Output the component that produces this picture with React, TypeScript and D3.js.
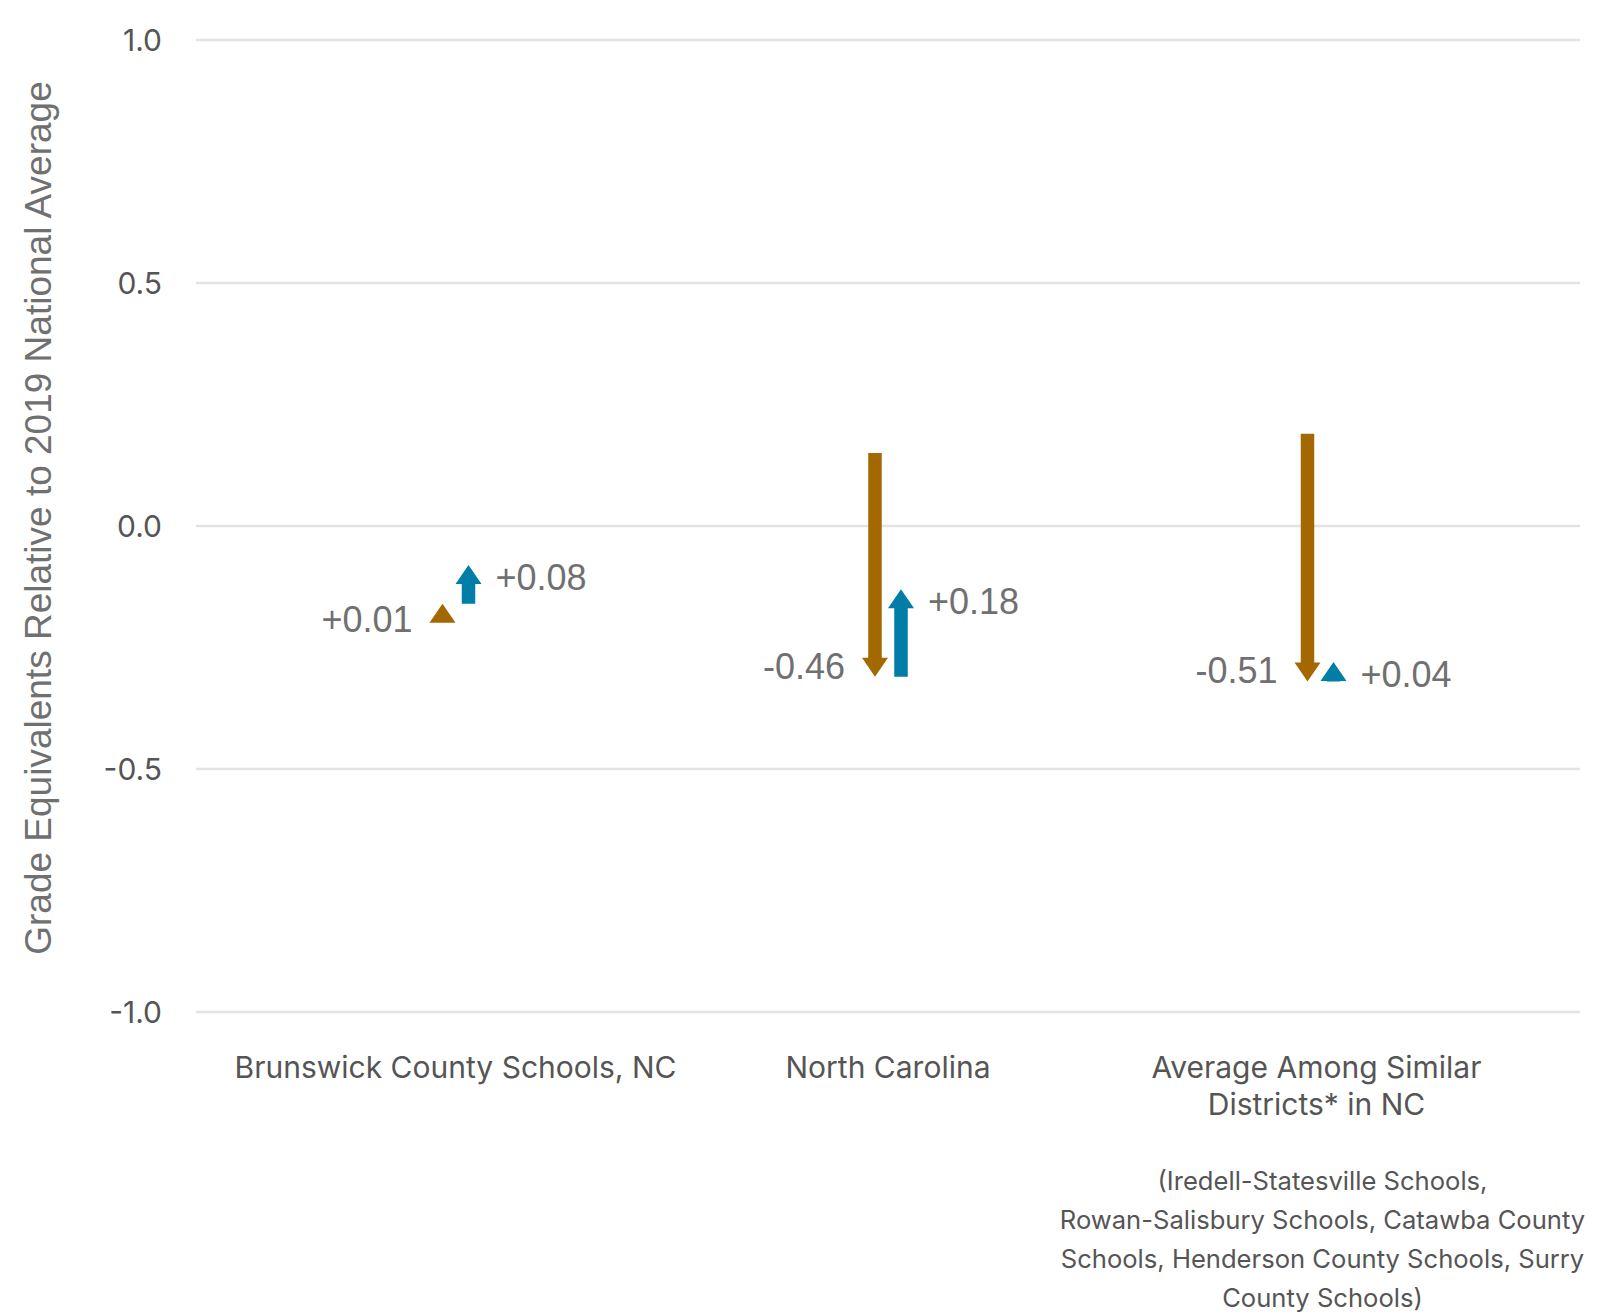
import React from "react";
import * as d3 from "d3";

const categories = ["Brunswick", "NorthCarolina", "Similar"];
const categoryLines = [
  ["Brunswick County Schools, NC"],
  ["North Carolina"],
  ["Average Among Similar", "Districts* in NC"],
];
const noteLines = [
  "(Iredell-Statesville Schools,",
  "Rowan-Salisbury Schools, Catawba County",
  "Schools, Henderson County Schools, Surry",
  "County Schools)",
];
const firstStart = [-0.17, 0.15, 0.19];
const firstEnd = [-0.16, -0.31, -0.32];
const secondEnd = [-0.08, -0.13, -0.28];
const yTicks = [-1, -0.5, 0, 0.5, 1];

const W = 1600;
const H = 1315;
const BROWN = "#A36800";
const BLUE = "#007EA7";
const GRID = "#e3e3e3";
const TEXT = "#555555";
const VALUE = "#707070";

const fixMinus = (s: string) => s.replace(/\u2212/g, "-");
const fmtDelta = d3.format("+.2f");
const fmtTick = d3.format(".1f");

function arrowPath(x: number, y0: number, y1: number) {
  const headLen = 19;
  const headW = 26;
  const shaftW = 13.5;
  const dir = y1 >= y0 ? 1 : -1;
  const base = y1 - dir * headLen;
  const p = d3.path();
  if ((base - y0) * dir > 0) {
    p.rect(x - shaftW / 2, Math.min(y0, base), shaftW, Math.abs(base - y0));
  }
  p.moveTo(x - headW / 2, base);
  p.lineTo(x + headW / 2, base);
  p.lineTo(x, y1);
  p.closePath();
  return p.toString();
}

export default function App() {
  const x = d3.scalePoint<string>().domain(categories).range([196, 1580]).padding(0.6);
  const y = d3.scaleLinear().domain([-1, 1]).range([1012, 40]);
  const off = 13;

  return (
    <svg
      width={W}
      height={H}
      style={{ position: "absolute", left: 0, top: 0, background: "#fff" }}
    >
      {yTicks.map((t) => (
        <g key={t}>
          <line x1={196} x2={1580} y1={y(t)} y2={y(t)} stroke={GRID} strokeWidth={2.5} />
          <text
            x={162}
            y={y(t)}
            dy="0.36em"
            textAnchor="end"
            fontFamily="Inter, sans-serif"
            fontSize={30}
            fill={TEXT}
          >
            {fixMinus(fmtTick(t))}
          </text>
        </g>
      ))}

      <text
        transform={`translate(38, ${(y(1) + y(-1)) / 2 - 8}) rotate(-90)`}
        textAnchor="middle"
        dy="0.36em"
        fontFamily="'Liberation Sans', Arial, sans-serif"
        fontSize={37}
        fill={VALUE}
      >
        Grade Equivalents Relative to 2019 National Average
      </text>

      {categories.map((c, i) => {
        const cx = x(c) as number;
        const bx = cx - off;
        const ux = cx + off;
        const a0 = y(firstStart[i]);
        const a1 = y(firstEnd[i]);
        const b0 = y(firstEnd[i]);
        const b1 = y(secondEnd[i]);
        const d1 = firstEnd[i] - firstStart[i];
        const d2 = secondEnd[i] - firstEnd[i];
        const l1 = fixMinus(fmtDelta(d1));
        const l2 = fixMinus(fmtDelta(d2));
        const ly1 = d1 >= 0 ? a1 + 15 : a1 - 11;
        const ly2 = d2 >= 0 ? b1 + 12 : b1 - 10;
        return (
          <g key={c}>
            <path d={arrowPath(bx, a0, a1)} fill={BROWN} />
            <path d={arrowPath(ux, b0, b1)} fill={BLUE} />
            <text
              x={bx - 30}
              y={ly1}
              dy="0.36em"
              textAnchor="end"
              fontFamily="'Liberation Sans', Arial, sans-serif"
              fontSize={36}
              fill={VALUE}
            >
              {l1}
            </text>
            <text
              x={ux + 27}
              y={ly2}
              dy="0.36em"
              textAnchor="start"
              fontFamily="'Liberation Sans', Arial, sans-serif"
              fontSize={36}
              fill={VALUE}
            >
              {l2}
            </text>
            {categoryLines[i].map((line, j) => (
              <text
                key={j}
                x={cx - (i === 2 ? 4 : 0)}
                y={1078 + j * 37}
                textAnchor="middle"
                fontFamily="Inter, sans-serif"
                fontSize={30}
                fill={TEXT}
              >
                {line}
              </text>
            ))}
          </g>
        );
      })}

      {noteLines.map((line, j) => (
        <text
          key={j}
          x={(x(categories[2]) as number) + 2}
          y={1190 + j * 39}
          textAnchor="middle"
          fontFamily="Inter, sans-serif"
          fontSize={25.6}
          fill={TEXT}
        >
          {line}
        </text>
      ))}
    </svg>
  );
}
